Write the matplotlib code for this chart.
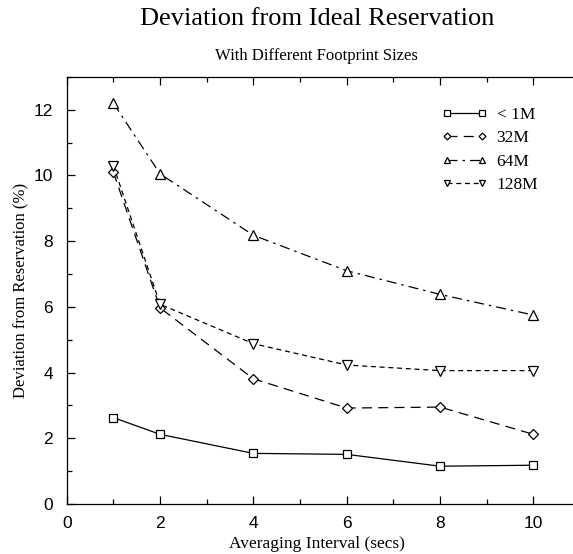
import numpy as np
import matplotlib
matplotlib.use("Agg")
import matplotlib.pyplot as plt
from matplotlib.ticker import MultipleLocator

# values
interval = [1, 2, 4, 6, 8, 10]
lt_1m = [2.63, 2.12, 1.54, 1.51, 1.15, 1.18]
m32 = [10.1, 5.97, 3.81, 2.92, 2.95, 2.12]
m64 = [12.2, 10.05, 8.18, 7.1, 6.38, 5.75]
m128 = [10.3, 6.08, 4.88, 4.23, 4.06, 4.06]
labels = ["< 1M", "32M", "64M", "128M"]

serif = "Liberation Serif"
sans = "Liberation Sans"

fig = plt.figure(figsize=(5.73, 5.54), dpi=100)
ax = fig.add_axes([0.1164, 0.0903, 0.896, 0.7708])

common = dict(color="black", lw=0.9, markerfacecolor="white",
              markeredgecolor="black", markeredgewidth=0.9)
ax.plot(interval, lt_1m, marker="s", ms=6, ls="-", label=labels[0], **common)
ax.plot(interval, m32, marker="D", ms=5, dashes=(8, 5), label=labels[1], **common)
ax.plot(interval, m64, marker="^", ms=7, dashes=(8, 4, 2, 4), label=labels[2], **common)
ax.plot(interval, m128, marker="v", ms=7, dashes=(4, 3), label=labels[3], **common)

ax.set_xlim(0, 11)
ax.set_ylim(0, 13)
ax.xaxis.set_major_locator(MultipleLocator(2))
ax.xaxis.set_minor_locator(MultipleLocator(1))
ax.yaxis.set_major_locator(MultipleLocator(2))
ax.yaxis.set_minor_locator(MultipleLocator(1))
ax.tick_params(which="both", direction="in", top=True, right=False)
ax.tick_params(which="major", length=6, width=0.9, labelsize=12.5)
ax.tick_params(axis="y", which="major", pad=10)
ax.tick_params(axis="x", which="major", pad=9)
ax.tick_params(which="minor", length=3.5, width=0.9)
for t in ax.get_xticklabels() + ax.get_yticklabels():
    t.set_fontfamily(sans)
ax.spines["right"].set_visible(False)
for s in ["left", "bottom", "top"]:
    ax.spines[s].set_linewidth(0.9)

ax.set_xlabel("Averaging Interval (secs)", fontfamily=serif, fontsize=12.5, labelpad=5)
ax.xaxis.set_label_coords(0.488, -0.075)
ax.set_ylabel("Deviation from Reservation (%)", fontfamily=serif, fontsize=12, labelpad=3)

ax.legend(loc="upper left", bbox_to_anchor=(0.731, 0.93), frameon=False,
          borderpad=0, borderaxespad=0, markerscale=0.7,
          numpoints=2, handlelength=2.6, handletextpad=0.55, labelspacing=0.42,
          prop={"family": serif, "size": 12.5})

# gnuplot-style titles, centred over the plot area
fig.text(0.553, 0.966, "Deviation from Ideal Reservation", ha="center", va="center",
         fontfamily=serif, fontsize=19)
fig.text(0.553, 0.899, "With Different Footprint Sizes", ha="center", va="center",
         fontfamily=serif, fontsize=12)

fig.savefig("out.png", dpi=100)
